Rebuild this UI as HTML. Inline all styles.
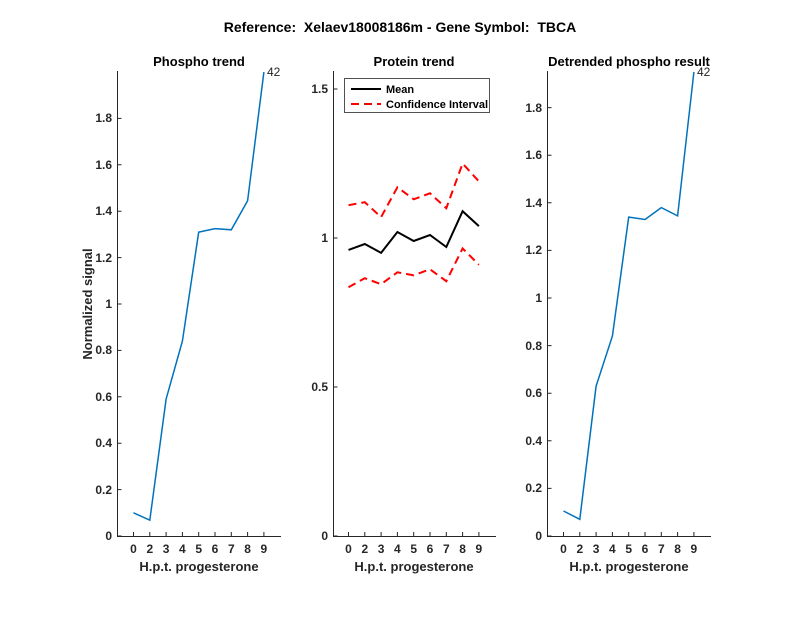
<!DOCTYPE html>
<html><head><style>body{margin:0;background:#fff}svg{display:block}text{font-family:"Liberation Sans",Arial,sans-serif;fill:#262626}</style></head><body>
<svg width="800" height="618" viewBox="0 0 800 618" xmlns="http://www.w3.org/2000/svg">
<rect width="800" height="618" fill="#fff"/>
<text x="400" y="32" font-size="14" font-weight="bold" text-anchor="middle" style="fill:#000;white-space:pre">Reference:  Xelaev18008186m - Gene Symbol:  TBCA</text>
<g stroke="#262626" stroke-width="1" fill="none">
<path d="M117.5 71V536.5H281"/>
<path d="M333.5 71V536.5H496"/>
<path d="M547.5 71V536.5H711"/>
</g>
<g stroke="#262626" stroke-width="1">
<path d="M117.5 536h4M117.5 489.6h4M117.5 443.2h4M117.5 396.8h4M117.5 350.4h4M117.5 304h4M117.5 257.6h4M117.5 211.2h4M117.5 164.8h4M117.5 118.4h4"/>
<path d="M133.5 536v-4M149.8 536v-4M166.1 536v-4M182.4 536v-4M198.7 536v-4M215 536v-4M231.3 536v-4M247.6 536v-4M263.9 536v-4"/>
<path d="M333.5 536h4M333.5 387h4M333.5 238h4M333.5 89h4"/>
<path d="M348.5 536v-4M364.8 536v-4M381.1 536v-4M397.4 536v-4M413.7 536v-4M430 536v-4M446.3 536v-4M462.6 536v-4M478.9 536v-4"/>
<path d="M547.5 536h4M547.5 488.4h4M547.5 440.8h4M547.5 393.2h4M547.5 345.6h4M547.5 298h4M547.5 250.4h4M547.5 202.8h4M547.5 155.2h4M547.5 107.6h4"/>
<path d="M563.5 536v-4M579.8 536v-4M596.1 536v-4M612.4 536v-4M628.7 536v-4M645 536v-4M661.3 536v-4M677.6 536v-4M693.9 536v-4"/>
</g>
<g font-size="12" font-weight="bold" text-anchor="end">
<text x="112" y="540">0</text><text x="112" y="494">0.2</text><text x="112" y="447">0.4</text><text x="112" y="401">0.6</text><text x="112" y="354">0.8</text><text x="112" y="308">1</text><text x="112" y="262">1.2</text><text x="112" y="215">1.4</text><text x="112" y="169">1.6</text><text x="112" y="122">1.8</text>
<text x="328" y="540">0</text><text x="328" y="391">0.5</text><text x="328" y="242">1</text><text x="328" y="93">1.5</text>
<text x="542" y="540">0</text><text x="542" y="492">0.2</text><text x="542" y="445">0.4</text><text x="542" y="397">0.6</text><text x="542" y="350">0.8</text><text x="542" y="302">1</text><text x="542" y="254">1.2</text><text x="542" y="207">1.4</text><text x="542" y="159">1.6</text><text x="542" y="112">1.8</text>
</g>
<g font-size="12" font-weight="bold" text-anchor="middle">
<text x="133.5" y="553">0</text><text x="149.8" y="553">2</text><text x="166.1" y="553">3</text><text x="182.4" y="553">4</text><text x="198.7" y="553">5</text><text x="215" y="553">6</text><text x="231.3" y="553">7</text><text x="247.6" y="553">8</text><text x="263.9" y="553">9</text>
<text x="348.5" y="553">0</text><text x="364.8" y="553">2</text><text x="381.1" y="553">3</text><text x="397.4" y="553">4</text><text x="413.7" y="553">5</text><text x="430" y="553">6</text><text x="446.3" y="553">7</text><text x="462.6" y="553">8</text><text x="478.9" y="553">9</text>
<text x="563.5" y="553">0</text><text x="579.8" y="553">2</text><text x="596.1" y="553">3</text><text x="612.4" y="553">4</text><text x="628.7" y="553">5</text><text x="645" y="553">6</text><text x="661.3" y="553">7</text><text x="677.6" y="553">8</text><text x="693.9" y="553">9</text>
</g>
<g font-size="13" font-weight="bold" text-anchor="middle">
<text x="199" y="571">H.p.t. progesterone</text>
<text x="414" y="571">H.p.t. progesterone</text>
<text x="629" y="571">H.p.t. progesterone</text>
<text x="199" y="66" style="fill:#000">Phospho trend</text>
<text x="414" y="66" style="fill:#000">Protein trend</text>
<text x="629" y="66" style="fill:#000">Detrended phospho result</text>
<text transform="translate(92 304) rotate(-90)">Normalized signal</text>
</g>
<polyline fill="none" stroke="#0072BD" stroke-width="1.5" points="133.5,512.8 149.8,520.2 166.1,399.1 182.4,341.1 198.7,232.1 215,228.6 231.3,229.8 247.6,200.8 263.9,72"/>
<polyline fill="none" stroke="#0072BD" stroke-width="1.5" points="563.5,511 579.8,519.3 596.1,386.1 612.4,336.1 628.7,217.1 645,219.5 661.3,207.6 677.6,215.9 693.9,71.9"/>
<text x="267" y="76" font-size="12">42</text>
<text x="697" y="76" font-size="12">42</text>
<polyline fill="none" stroke="#000" stroke-width="2" points="348.5,249.9 364.8,244 381.1,252.9 397.4,232 413.7,241 430,235 446.3,247 462.6,211.2 478.9,226.1"/>
<polyline fill="none" stroke="#f00" stroke-width="2" stroke-dasharray="8,5" points="348.5,205.2 364.8,202.2 381.1,217.1 397.4,187.3 413.7,199.3 430,193.3 446.3,208.2 462.6,163.5 478.9,181.4"/>
<polyline fill="none" stroke="#f00" stroke-width="2" stroke-dasharray="8,5" points="348.5,287.2 364.8,278.2 381.1,284.2 397.4,272.3 413.7,275.3 430,269.3 446.3,281.2 462.6,248.4 478.9,264.8"/>
<rect x="344.5" y="78.5" width="145" height="34" fill="#fff" stroke="#262626" stroke-width="0.8"/>
<line x1="351" y1="89" x2="381" y2="89" stroke="#000" stroke-width="2"/>
<line x1="351" y1="104" x2="381" y2="104" stroke="#f00" stroke-width="2" stroke-dasharray="8,5"/>
<text x="386" y="93" font-size="11" font-weight="bold" style="fill:#000">Mean</text>
<text x="386" y="108" font-size="11" font-weight="bold" style="fill:#000">Confidence Interval</text>
</svg>
</body></html>
